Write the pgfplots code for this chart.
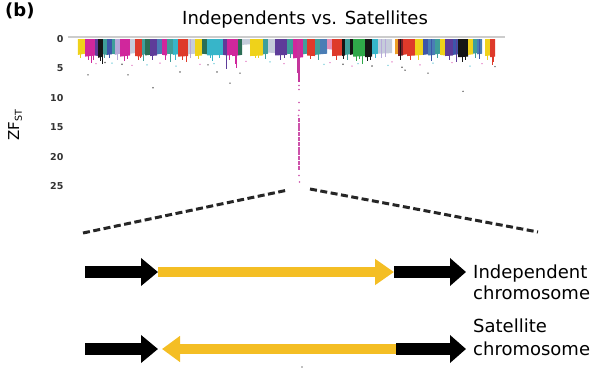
\documentclass[border=0pt]{standalone}
\usepackage{pgfplots}
\pgfplotsset{compat=1.18}
\usepackage{fontspec}
\setmainfont{DejaVu Sans}
\usetikzlibrary{arrows.meta}
\definecolor{mhy}{HTML}{EFD21A}
\definecolor{mhm}{HTML}{D0279C}
\definecolor{mhk}{HTML}{151515}
\definecolor{mht}{HTML}{3F9E9A}
\definecolor{mhp}{HTML}{5E3C99}
\definecolor{mhc}{HTML}{37B5C9}
\definecolor{mhr}{HTML}{DE3A2A}
\definecolor{mhg}{HTML}{2FA849}
\definecolor{mhl}{HTML}{C5CCDA}
\definecolor{mhb}{HTML}{3D56A8}
\definecolor{mhdr}{HTML}{7A1F26}
\definecolor{mho}{HTML}{EE9E26}
\definecolor{mhv}{HTML}{B7A9D9}
\definecolor{mhdg}{HTML}{2C6E55}
\definecolor{mhsb}{HTML}{4A7DB5}
\definecolor{mhpk}{HTML}{E58FB8}
\definecolor{peakcol}{HTML}{C4359C}
\definecolor{arrowyellow}{RGB}{244,190,36}
\newcommand{\blk}[5]{\addplot[fill=#3, draw=none, forget plot] coordinates {(#1,0) (#1,#4) (#2,#5) (#2,0)};}
\begin{document}
\begin{tikzpicture}
\path[use as bounding box] (0,0) rectangle (592pt,378pt);
% ---------- canvas axis (pixel coordinates) ----------
\begin{axis}[at={(0pt,0pt)}, anchor=south west, scale only axis,
  width=592pt, height=378pt, xmin=0, xmax=592, ymin=0, ymax=378,
  y dir=reverse, hide axis, clip=false]
% dashed zoom lines
\addplot[black!85, line width=3pt, dash pattern=on 7pt off 3.5pt] coordinates {(83,233) (288,190)};
\addplot[black!85, line width=3pt, dash pattern=on 7pt off 3.5pt] coordinates {(310,189) (538,232)};
% independent chromosome
\addplot[arrowyellow, line width=10pt, -{Triangle[length=19pt,width=25pt]}] coordinates {(158,272) (394,272)};
\addplot[black, line width=12pt, -{Triangle[length=17pt,width=27pt]}] coordinates {(85,272) (158,272)};
\addplot[black, line width=12pt, -{Triangle[length=16pt,width=27pt]}] coordinates {(394,272) (466,272)};
% satellite chromosome
\addplot[arrowyellow, line width=10pt, -{Triangle[length=18pt,width=25pt]}] coordinates {(396,349) (162,349)};
\addplot[black, line width=12pt, -{Triangle[length=17pt,width=27pt]}] coordinates {(85,349) (158,349)};
\addplot[black, line width=12pt, -{Triangle[length=16pt,width=27pt]}] coordinates {(396,349) (466,349)};
\addplot[only marks, mark=*, mark size=0.6pt, black!40] coordinates {(302,367)};
% texts
\node[anchor=base west, inner sep=0, font=\fontsize{18}{20}\selectfont\bfseries] at (axis cs:5,16) {(b)};
\node[anchor=base west, inner sep=0, font=\fontsize{18}{20}\selectfont] at (axis cs:182,24) {Independents vs. Satellites};
\node[anchor=base, rotate=90, inner sep=0, font=\fontsize{15}{17}\selectfont] at (axis cs:19,125.5) {ZF\raisebox{-0.35ex}{\fontsize{9.5}{9.5}\selectfont ST}};
\node[anchor=base west, inner sep=0, font=\fontsize{18}{20}\selectfont] at (axis cs:473,278) {Independent};
\node[anchor=base west, inner sep=0, font=\fontsize{18}{20}\selectfont] at (axis cs:473,299) {chromosome};
\node[anchor=base west, inner sep=0, font=\fontsize{18}{20}\selectfont] at (axis cs:473,332) {Satellite};
\node[anchor=base west, inner sep=0, font=\fontsize{18}{20}\selectfont] at (axis cs:473,355) {chromosome};
\end{axis}
% ---------- Manhattan plot ----------
\begin{axis}[at={(68pt,341.35pt)}, anchor=north west, scale only axis,
  width=437pt, height=149.35pt, xmin=68, xmax=505, ymin=-0.4, ymax=25,
  y dir=reverse, axis line style={draw=none}, xtick=\empty,
  ytick={0,5,10,15,20,25}, major tick length=0pt,
  /pgf/number format/assume math mode=true,
  yticklabel style={font=\fontsize{9.5}{10}\selectfont\bfseries, text=black!80, xshift=-1pt},
  clip=false]
\addplot[gray!40, line width=1.6pt] coordinates {(68,-0.3) (505,-0.3)};
% chromosome blocks: x1, x2, colour, depth left, depth right
\blk{78}{85}{mhy}{2.7}{2.5}
\blk{85}{95}{mhm}{3.0}{2.8}
\blk{95}{98}{mhp}{2.8}{2.9}
\blk{98}{103}{mhk}{3.2}{3.0}
\blk{103}{107}{mht}{2.6}{2.7}
\blk{107}{112}{mhb}{2.7}{2.6}
\blk{112}{115}{mht}{2.5}{2.6}
\blk{115}{120}{mhv}{2.7}{2.5}
\blk{120}{130}{mhm}{3.0}{2.8}
\blk{130}{135}{mhl}{2.5}{2.4}
\blk{135}{142}{mhr}{2.9}{3.0}
\blk{142}{145}{mht}{2.7}{2.6}
\blk{145}{150}{mhdg}{2.8}{2.7}
\blk{150}{157}{mhp}{2.9}{2.8}
\blk{157}{162}{mhsb}{2.6}{2.5}
\blk{162}{167}{mhm}{2.7}{2.8}
\blk{167}{173}{mht}{2.5}{2.6}
\blk{173}{178}{mhc}{2.7}{2.6}
\blk{178}{188}{mhr}{3.0}{2.9}
\blk{188}{195}{mhl}{2.6}{2.5}
\blk{195}{202}{mhy}{2.9}{2.8}
\blk{202}{207}{mhdg}{2.5}{2.6}
\blk{207}{223}{mhc}{2.8}{2.7}
\blk{223}{227}{mhp}{2.7}{2.8}
\blk{227}{232}{mhm}{2.8}{2.7}
\blk{232}{238}{mhm}{2.9}{2.8}
\blk{238}{242}{mhdg}{2.8}{2.7}
\blk{242}{250}{mhl}{1.0}{0.9}
\blk{250}{263}{mhy}{2.9}{2.8}
\blk{263}{268}{mht}{2.6}{2.5}
\blk{268}{275}{mhl}{2.3}{2.4}
\blk{275}{287}{mhp}{2.8}{2.7}
\blk{287}{293}{mht}{2.5}{2.6}
\blk{293}{303}{mhm}{3.3}{3.1}
\blk{303}{307}{mht}{2.6}{2.5}
\blk{307}{315}{mhr}{2.8}{2.9}
\blk{315}{320}{mht}{2.7}{2.6}
\blk{320}{327}{mhsb}{2.6}{2.5}
\blk{327}{332}{mhpk}{1.7}{1.8}
\blk{332}{342}{mhr}{2.9}{2.8}
\blk{342}{345}{mhk}{2.9}{2.8}
\blk{345}{350}{mht}{2.7}{2.6}
\blk{350}{353}{mhk}{2.7}{2.6}
\blk{353}{365}{mhg}{3.0}{2.9}
\blk{365}{372}{mhk}{3.1}{3.0}
\blk{372}{378}{mhc}{2.6}{2.5}
\blk{378}{392}{mhl}{2.5}{2.4}
\blk{395}{398}{mho}{2.6}{2.5}
\blk{398}{403}{mhdr}{2.9}{2.8}
\blk{403}{407}{mhr}{2.7}{2.6}
\blk{407}{415}{mhr}{2.9}{2.8}
\blk{415}{423}{mhy}{2.8}{2.7}
\blk{423}{428}{mhb}{2.7}{2.6}
\blk{428}{435}{mhsb}{2.8}{2.7}
\blk{435}{440}{mht}{2.6}{2.5}
\blk{440}{445}{mhy}{2.7}{2.8}
\blk{445}{453}{mhp}{2.9}{2.8}
\blk{453}{458}{mhb}{2.7}{2.6}
\blk{458}{468}{mhk}{3.1}{3.0}
\blk{468}{473}{mhy}{2.7}{2.6}
\blk{473}{477}{mht}{2.5}{2.4}
\blk{477}{482}{mhsb}{2.6}{2.5}
\blk{485}{490}{mhy}{2.9}{2.8}
\blk{490}{495}{mhr}{3.1}{3.0}
% drips below blocks
\addplot[ycomb, mhm, line width=0.7pt] coordinates {(88,3.6) (91,4.1) (124,3.8) (127,3.4) (165,3.5) (235,4.2) (236,4.9) (229,3.6) (93,3.5)};
\addplot[ycomb, mhk, line width=0.7pt] coordinates {(100,3.7) (102,4.2) (367,3.8) (370,3.5) (462,3.9) (465,3.6) (400,3.6) (343,3.4)};
\addplot[ycomb, mhr, line width=0.7pt] coordinates {(138,3.6) (182,3.5) (186,3.9) (310,3.4) (336,3.6) (410,3.5) (492,4.5) (493,3.9) (140,3.3)};
\addplot[ycomb, mht, line width=0.7pt] coordinates {(104,3.3) (143,3.7) (170,3.9) (265,3.4) (318,3.6) (347,3.5) (437,3.3) (475,3.3) (290,3.2)};
\addplot[ycomb, mhc, line width=0.7pt] coordinates {(175,3.6) (212,3.7) (219,3.3) (375,3.2) (210,3.2)};
\addplot[ycomb, mhp, line width=0.7pt] coordinates {(152,3.5) (226,5.1) (280,3.5) (449,3.6) (456,3.9) (284,3.3)};
\addplot[ycomb, mhg, line width=0.7pt] coordinates {(356,3.7) (362,4.3) (359,3.4)};
\addplot[ycomb, mhy, line width=0.7pt] coordinates {(80,3.2) (198,3.4) (255,3.3) (418,3.5) (487,3.6) (258,3.2)};
\addplot[ycomb, mhv, line width=0.7pt] coordinates {(117,3.5) (190,3.3) (385,3.1) (381,3.3)};
\addplot[ycomb, mhb, line width=0.7pt] coordinates {(109,3.3) (431,3.7) (479,3.4)};
% scattered points
\addplot[only marks, mark=*, mark size=0.55pt, black!55] coordinates {(88,6.1) (128,6.1) (153,8.3) (180,5.6) (217,5.6) (230,7.5) (240,5.8) (405,5.3) (428,5.8) (463,8.9) (372,4.6) (402,4.8) (495,4.7) (122,4.3) (105,4.0) (208,4.4) (343,4.3)};
\addplot[only marks, mark=*, mark size=0.45pt, mhm!60] coordinates {(96,4.2) (132,4.5) (160,4.1) (200,4.3) (246,3.8) (284,4.2) (330,4.0) (352,4.6) (392,3.9) (420,4.4) (452,4.0) (482,4.2)};
\addplot[only marks, mark=*, mark size=0.45pt, mhc!70] coordinates {(112,4.1) (147,4.4) (176,4.6) (214,4.2) (270,3.9) (324,4.3) (358,4.2) (388,4.5) (433,4.1) (470,4.6)};
% peak
\addplot[ycomb, peakcol, line width=2.4pt] coordinates {(298.5,5.8)};
\addplot[peakcol, line width=1.2pt] coordinates {(299,5.8) (299,7.3)};
\addplot[peakcol!85, line width=1.5pt, dash pattern=on 4pt off 0.8pt] coordinates {(299,13.4) (299,22.3)};
\addplot[only marks, mark=*, mark size=0.6pt, peakcol!80] coordinates {(299,7.9) (299,8.6) (299,10.8) (299,12.1) (298.5,13.0) (299,23.2) (299.5,24.3)};
\end{axis}
\end{tikzpicture}
\end{document}
